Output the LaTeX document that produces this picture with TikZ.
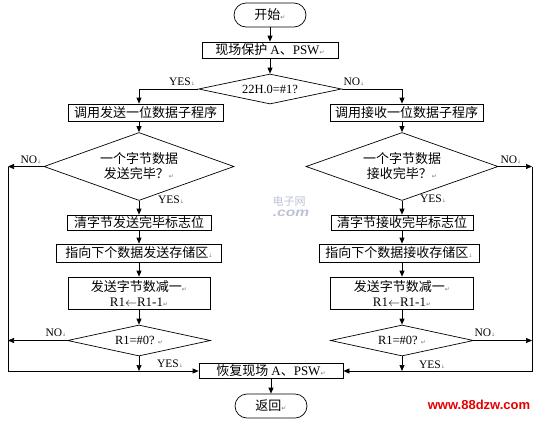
\documentclass[tikz,border=0pt]{standalone}
\usepackage{fontspec}
\setmainfont{Liberation Serif}
\newfontfamily\cjk{Noto Sans CJK SC}
\newfontfamily\dvs{DejaVu Sans}
\newfontfamily\lsans{Liberation Sans}
\usetikzlibrary{shapes.geometric,arrows.meta}
\definecolor{wmc}{RGB}{188,193,214}
\newcommand\retm{{\dvs\fontsize{6}{6}\selectfont\textcolor{black!55}{↵}}}
\newcommand\brkm{{\dvs\fontsize{5}{5}\selectfont\textcolor{black!55}{↓}}}
\newcommand\lat[1]{{\rmfamily #1}}
\begin{document}
\begin{tikzpicture}[x=1pt,y=-1pt,line width=0.7pt,
  arr/.style={-{Triangle[length=6pt,width=5pt]}},
  boxs/.style={draw,inner sep=0pt,align=center,font=\cjk\fontsize{13}{15}\selectfont},
  term/.style={draw,rounded corners=12pt,inner sep=0pt,minimum width=72pt,minimum height=24pt,font=\cjk\fontsize{13}{14}\selectfont},
  dia/.style={draw,diamond,inner sep=0pt,align=center,font=\fontsize{12.5}{15}\selectfont},
  lbl/.style={inner sep=0pt,font=\fontsize{11.5}{12}\selectfont}]
\useasboundingbox (0,0) rectangle (540,421);
\coordinate (xL) at (139,0);
\coordinate (xR) at (402,0);
\coordinate (xLL) at (8,0);
\coordinate (xRR) at (532,0);
% top
\node[term] (start) at (270,15) {开始\retm};
\node[boxs,minimum width=136pt,minimum height=16pt] (prot) at (270,50) {现场保护\ \lat{A}、\lat{PSW}\retm};
\node[dia,minimum width=143pt,minimum height=30pt,shape aspect=4.77] (d1) at (270,89) {22H.0=\#1?};
% left column
\node[boxs,minimum width=155pt,minimum height=17pt] (callL) at (145.5,112.5) {调用发送一位数据子程序};
\node[dia,minimum width=190pt,minimum height=68pt,shape aspect=2.79,font=\cjk\fontsize{13}{15}\selectfont] (d2L) at (139,166.5) {一个字节数据\\发送完毕？\retm};
\node[boxs,minimum width=144pt,minimum height=15pt] (clrL) at (139,222.5) {清字节发送完毕标志位};
\node[boxs,minimum width=165pt,minimum height=18pt] (ptL) at (139,253) {指向下个数据发送存储区\brkm};
\node[boxs,minimum width=142pt,minimum height=32pt] (decL) at (139,293) {发送字节数减一\retm\\\lat{R1$\leftarrow$R1-1}\retm};
\node[dia,minimum width=143pt,minimum height=31pt,shape aspect=4.6] (d3L) at (139,340.5) {R1=\#0?\ \retm};
% right column
\node[boxs,minimum width=153pt,minimum height=17pt] (callR) at (406.5,112.5) {调用接收一位数据子程序};
\node[dia,minimum width=192pt,minimum height=68pt,shape aspect=2.82,font=\cjk\fontsize{13}{15}\selectfont] (d2R) at (402,166.5) {一个字节数据\\接收完毕？\retm};
\node[boxs,minimum width=142pt,minimum height=15pt] (clrR) at (402,222.5) {清字节接收完毕标志位};
\node[boxs,minimum width=160pt,minimum height=18pt] (ptR) at (399,253) {指向下个数据接收存储区\brkm};
\node[boxs,minimum width=143pt,minimum height=32pt] (decR) at (402,293) {发送字节数减一\retm\\\lat{R1$\leftarrow$R1-1}\retm};
\node[dia,minimum width=143pt,minimum height=31pt,shape aspect=4.6] (d3R) at (402,340.5) {R1=\#0?\ \retm};
% bottom
\node[boxs,minimum width=144pt,minimum height=15pt] (rest) at (271,371) {恢复现场\ \lat{A}、\lat{PSW}\retm};
\node[term] (ret) at (271,406) {返回\retm};
% labels
\node[lbl] (yes1) at (182,82) {YES\brkm};
\node[lbl] (no1) at (354,82) {NO\brkm};
\node[lbl] (no2) at (31,160) {NO\brkm};
\node[lbl] (yes2) at (171,200) {YES\brkm};
\node[lbl] (yes3) at (433,199) {YES\brkm};
\node[lbl] (no3) at (511,160) {NO\brkm};
\node[lbl] (no4) at (56,333) {NO\brkm};
\node[lbl] (yes4) at (170,364) {YES\brkm};
\node[lbl] (no5) at (485,333) {NO\brkm};
\node[lbl] (yes5) at (432,365) {YES\brkm};
% watermarks
\node[inner sep=0pt,font=\cjk\fontsize{11}{11}\selectfont,text=wmc] (wm1) at (289,201) {电子网};
\node[inner sep=0pt,xscale=1.3,font=\lsans\bfseries\itshape\fontsize{12}{12}\selectfont,text=wmc] (wm2) at (291,213) {.com};
\node[inner sep=0pt,font=\lsans\bfseries\fontsize{13}{13}\selectfont,text=red!90!black] (wm3) at (479,405) {www.88dzw.com};
% connectors
\draw[arr] (start) -- (prot);
\draw[arr] (prot) -- (d1);
\draw[arr] (d1.west) -| (callL.north -| xL);
\draw[arr] (d1.east) -| (callR.north -| xR);
\draw[arr] (callL.south -| xL) -- (d2L.north);
\draw[arr] (d2L) -- (clrL);
\draw[arr] (clrL) -- (ptL);
\draw[arr] (ptL) -- (decL);
\draw[arr] (decL) -- (d3L);
\draw[arr] (callR.south -| xR) -- (d2R.north);
\draw[arr] (d2R) -- (clrR);
\draw[arr] (clrR) -- (ptR.north -| xR);
\draw[arr] (ptR.south -| xR) -- (decR);
\draw[arr] (decR) -- (d3R);
\draw[arr] (d2L.west) -- (d2L.west -| xLL);
\draw[arr] (d3L.west) -- (d3L.west -| xLL);
\draw[arr] (d2L.west -| xLL) |- (rest.west);
\draw[arr] (d3L.south) -- (d3L.south |- rest.west);
\draw[arr] (d2R.east) -- (d2R.east -| xRR);
\draw[arr] (d3R.east) -- (d3R.east -| xRR);
\draw[arr] (d2R.east -| xRR) |- (rest.east);
\draw[arr] (d3R.south) -- (d3R.south |- rest.east);
\draw[arr] (rest) -- (ret);
\end{tikzpicture}
\end{document}
